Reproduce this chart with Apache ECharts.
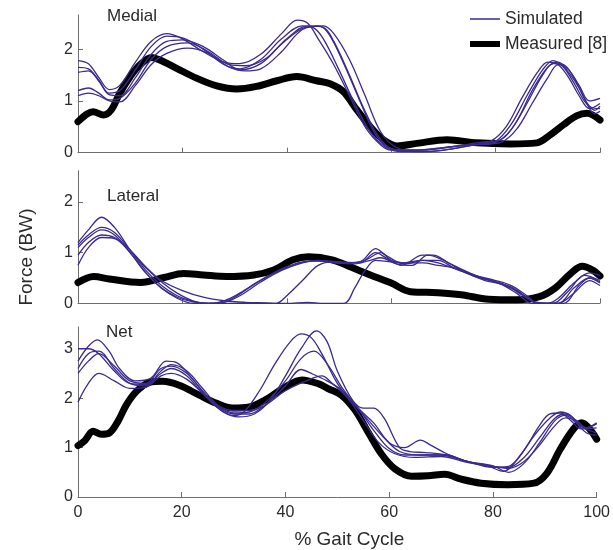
<!DOCTYPE html>
<html>
<head>
<meta charset="utf-8">
<script src="https://cdn.jsdelivr.net/npm/echarts@6/dist/echarts.min.js"></script>
<style>
html,body{margin:0;padding:0;background:#ffffff;}
#chart{width:613px;height:550px;}
</style>
</head>
<body>
<div id="chart"></div>
<script>
// ---- axis ticks ----
const gaitTicks = [0, 20, 40, 60, 80, 100];
const medialTicks = [0, 1, 2];
const lateralTicks = [0, 1, 2];
const netTicks = [0, 1, 2, 3];
const panelNames = ['Medial', 'Lateral', 'Net'];

// ---- Medial: measured [% gait, BW] ----
const medialMeasured = [[0,0.6],[2.9,0.79],[4.9,0.73],[6.4,0.83],[8,1.15],[10,1.47],[11.9,1.7],[14.1,1.84],[15.7,1.79],[18.9,1.63],[22.7,1.44],[26.6,1.29],[30.4,1.23],[34.2,1.28],[38.1,1.39],[41.9,1.47],[45.7,1.39],[48.3,1.33],[50.8,1.18],[53.4,0.83],[56,0.5],[58.5,0.25],[61.1,0.13],[64.9,0.18],[70.7,0.25],[76.4,0.19],[82.8,0.17],[87.9,0.19],[90.4,0.34],[93,0.54],[95.5,0.71],[97.5,0.76],[100,0.63]];
// ---- Medial: simulated ----
const medialSim1 = [[0,1.78],[2,1.72],[4,1.45],[6,1.22],[8,1.3],[11,1.75],[14,2.15],[17,2.3],[20,2.2],[24,1.95],[28,1.75],[31,1.72],[35,1.9],[39,2.3],[42,2.56],[44,2.5],[46,2.2],[49,1.7],[52,1.1],[55,0.5],[58,0.15],[60,0.05],[65,0.05],[70,0.1],[75,0.15],[79,0.22],[82,0.5],[85,1.05],[88,1.55],[90,1.75],[92,1.7],[94,1.45],[96,1.1],[98,0.85],[100,0.95]];
const medialSim2 = [[0,1.65],[2,1.62],[4,1.4],[6,1.15],[8,1.2],[11,1.6],[14,2.05],[17,2.25],[20,2.22],[24,2.0],[28,1.7],[31,1.62],[35,1.8],[39,2.2],[43,2.45],[45,2.42],[47,2.2],[50,1.6],[53,0.95],[56,0.4],[59,0.1],[62,0.02],[67,0.02],[72,0.08],[76,0.15],[80,0.22],[83,0.55],[86,1.1],[89,1.6],[91,1.78],[93,1.65],[95,1.35],[97,1.0],[99,0.82],[100,0.9]];
const medialSim3 = [[0,1.55],[2,1.58],[4,1.38],[6,1.12],[8,1.1],[11,1.45],[14,1.9],[17,2.15],[20,2.18],[24,2.05],[28,1.78],[31,1.6],[35,1.72],[39,2.1],[43,2.4],[46,2.45],[48,2.3],[51,1.7],[54,1.0],[57,0.35],[60,0.08],[64,0.05],[70,0.1],[75,0.15],[80,0.2],[83,0.45],[86,0.95],[89,1.5],[91,1.72],[93,1.7],[95,1.45],[97,1.05],[99,0.75],[100,0.8]];
const medialSim4 = [[0,1.2],[2,1.25],[4,1.15],[6,1.02],[8,1.05],[11,1.35],[14,1.8],[17,2.05],[21,2.12],[25,1.95],[29,1.7],[32,1.68],[36,1.82],[40,2.2],[44,2.45],[47,2.42],[49,2.15],[52,1.5],[55,0.8],[58,0.25],[61,0.05],[66,0.05],[72,0.12],[77,0.2],[81,0.25],[84,0.6],[87,1.2],[90,1.65],[92,1.75],[94,1.55],[96,1.25],[98,0.9],[100,0.85]];
const medialSim5 = [[0,1.1],[2,1.15],[4,1.1],[6,1.0],[8,0.98],[11,1.3],[14,1.7],[17,1.92],[21,2.02],[25,1.92],[29,1.65],[32,1.58],[35,1.62],[39,1.95],[43,2.38],[47,2.45],[49,2.3],[52,1.8],[55,1.1],[58,0.4],[61,0.1],[65,0.02],[70,0.05],[76,0.15],[81,0.2],[84,0.45],[87,0.95],[90,1.45],[92,1.7],[94,1.6],[96,1.3],[98,1.0],[100,1.05]];

// ---- Lateral ----
const lateralMeasured = [[0,0.41],[3,0.53],[6,0.48],[12,0.41],[16.5,0.51],[20.2,0.59],[24,0.56],[28.5,0.53],[33.7,0.56],[37.5,0.66],[41.2,0.86],[44.2,0.92],[48.7,0.86],[52.4,0.71],[56,0.56],[60,0.4],[63.7,0.23],[69,0.21],[73.4,0.17],[78.7,0.08],[84,0.07],[88.4,0.13],[91.4,0.3],[94.4,0.59],[96.6,0.73],[98.5,0.66],[100,0.54]];
const lateralSim1 = [[0,1.2],[2,1.45],[4.5,1.7],[7,1.5],[10,1.05],[13,0.65],[16,0.35],[19,0.15],[22,0.04],[25,0],[28,0.05],[31,0.2],[35,0.45],[39,0.68],[43,0.82],[46,0.84],[50,0.8],[54,0.82],[57,1.08],[59,0.95],[62,0.8],[66,0.85],[69,0.8],[73,0.65],[77,0.5],[80,0.42],[83,0.3],[86,0.1],[88,0],[91,0],[94,0.25],[97,0.55],[100,0.45]];
const lateralSim2 = [[0,1.15],[2,1.35],[4.5,1.5],[7,1.4],[10,1.05],[13,0.7],[16,0.42],[19,0.2],[22,0.05],[25,0],[28,0.02],[31,0.15],[35,0.42],[39,0.65],[43,0.8],[46,0.85],[50,0.82],[54,0.8],[57,1.0],[59,0.9],[62,0.75],[66,0.95],[68,0.95],[71,0.8],[75,0.6],[78,0.48],[81,0.4],[84,0.25],[87,0.05],[90,0],[92,0.1],[95,0.4],[98,0.6],[100,0.55]];
const lateralSim3 = [[0,1.1],[2,1.3],[4.5,1.45],[7,1.35],[10,1.0],[13,0.6],[16,0.3],[19,0.12],[22,0.03],[25,0],[27,0],[30,0.12],[34,0.4],[38,0.62],[42,0.78],[45,0.84],[49,0.8],[53,0.78],[56,0.85],[58,0.9],[61,0.78],[64,0.75],[67,0.95],[70,0.85],[74,0.62],[78,0.45],[81,0.38],[84,0.2],[87,0],[92,0],[95,0.3],[98,0.5],[100,0.42]];
const lateralSim4 = [[0,0.95],[2,1.2],[4.5,1.35],[7,1.3],[10,1.05],[13,0.72],[16,0.45],[20,0.25],[24,0.12],[28,0.05],[32,0.02],[36,0.01],[38,0],[40,0.15],[43,0.45],[46,0.75],[49,0.82],[52,0.8],[55,0.85],[58,1.0],[60,0.85],[63,0.78],[66,0.85],[69,0.85],[72,0.7],[76,0.55],[80,0.42],[83,0.32],[86,0.12],[88,0],[93,0],[96,0.35],[98,0.5],[100,0.4]];
const lateralSim5 = [[0,0.75],[2,1.1],[4.5,1.3],[7,1.28],[10,1.0],[13,0.6],[16,0.3],[19,0.1],[22,0],[30,0],[40,0],[44,0.02],[47,0],[51,0],[53,0.3],[55,0.65],[57,0.85],[60,0.82],[63,0.8],[66,0.8],[69,0.75],[72,0.7],[76,0.55],[80,0.45],[83,0.35],[86,0.15],[88,0],[92,0],[95,0.2],[98,0.45],[100,0.35]];

// ---- Net ----
const netMeasured = [[0,1.04],[1.3,1.14],[2.9,1.33],[4.5,1.27],[6.1,1.3],[7.7,1.53],[9.3,1.86],[11.2,2.13],[13.8,2.32],[16.3,2.34],[19.5,2.26],[23.4,2.06],[26.6,1.9],[29.8,1.8],[33,1.82],[36.2,1.97],[39.4,2.19],[43.2,2.37],[46.4,2.29],[48.3,2.19],[50.8,2.06],[53.4,1.76],[56,1.3],[58.5,0.87],[61.1,0.57],[64.3,0.42],[67.5,0.43],[70.7,0.46],[73.9,0.36],[77.7,0.28],[82.8,0.25],[87.9,0.28],[90.4,0.48],[93,0.97],[95.5,1.37],[97.1,1.5],[98.7,1.37],[100,1.17]];
const netSim1 = [[0,3.0],[2,3.0],[4,2.9],[7,2.55],[10,2.3],[13,2.28],[16,2.5],[18,2.6],[21,2.45],[24,2.1],[27,1.8],[30,1.65],[32,1.72],[35,2.15],[38,2.7],[41,3.15],[43,3.3],[45,3.22],[47,2.9],[50,2.3],[53,1.9],[56,1.55],[59,1.2],[62,0.92],[66,0.85],[70,0.85],[75,0.72],[80,0.6],[83,0.62],[86,0.95],[89,1.45],[91,1.68],[93,1.7],[95,1.55],[97,1.38],[100,1.4]];
const netSim2 = [[0,2.75],[2,3.05],[3.7,3.18],[6,2.95],[8,2.6],[11,2.35],[14,2.4],[17,2.75],[19,2.72],[22,2.4],[25,2.0],[28,1.72],[31,1.62],[34,1.68],[37,1.95],[40,2.45],[43,3.0],[46,3.36],[48,3.15],[50,2.55],[53,1.95],[55,1.8],[57,1.8],[59,1.6],[62,1.0],[64,0.92],[67,0.9],[71,0.85],[75,0.72],[79,0.63],[82,0.52],[85,0.8],[88,1.25],[91,1.6],[93,1.72],[95,1.65],[97,1.42],[100,1.3]];
const netSim3 = [[0,2.6],[2,2.9],[4,2.95],[7,2.6],[10,2.3],[13,2.25],[16,2.55],[18,2.68],[21,2.55],[24,2.2],[27,1.85],[30,1.7],[33,1.72],[36,1.9],[40,2.35],[43,2.8],[45.5,2.95],[48,2.7],[51,2.2],[54,1.8],[57,1.5],[60,1.1],[63,1.0],[66,1.15],[68,1.05],[71,0.88],[75,0.72],[80,0.62],[83,0.6],[86,0.8],[89,1.2],[92,1.6],[94,1.68],[96,1.55],[98,1.4],[100,1.5]];
const netSim4 = [[0,2.5],[2,2.75],[4,2.9],[7,2.65],[10,2.35],[13,2.3],[16,2.6],[18,2.65],[21,2.5],[24,2.15],[27,1.82],[30,1.68],[33,1.68],[36,1.85],[40,2.25],[43,2.58],[45,2.5],[48,2.35],[51,2.15],[54,1.8],[57,1.35],[60,0.98],[63,0.85],[67,0.85],[71,0.85],[75,0.72],[80,0.63],[83,0.5],[86,0.68],[89,1.1],[92,1.55],[94,1.65],[96,1.5],[98,1.3],[100,1.25]];
const netSim5 = [[0,1.92],[2,2.3],[4,2.5],[7,2.35],[10,2.2],[13,2.22],[16,2.45],[18,2.5],[21,2.38],[24,2.1],[27,1.85],[30,1.75],[33,1.75],[36,1.85],[40,2.15],[44,2.35],[47,2.45],[49,2.3],[52,2.0],[55,1.55],[58,1.1],[61,0.88],[65,0.8],[70,0.82],[75,0.7],[80,0.62],[83,0.58],[86,0.72],[89,1.05],[92,1.45],[94,1.6],[96,1.55],[98,1.4],[100,1.48]];

const SIM_COLOR = '#3b2a8e';
const FONT = "'Liberation Sans', Arial, Helvetica, sans-serif";
const AXIS_COLOR = '#6e6e6e';
const TEXT_COLOR = '#2a2a2a';

const grids = [
  {left: 78, right: 13, top: 15, height: 137.7},
  {left: 78, right: 13, top: 170.7, height: 132.6},
  {left: 78, right: 13, top: 327, height: 173.7}
];
const yMax = [2.66, 2.62, 3.44];
const yTicks = [medialTicks, lateralTicks, netTicks];

const xAxes = grids.map((g, i) => ({
  type: 'value', gridIndex: i, min: 0, max: 100, interval: 20,
  axisLine: {show: true, lineStyle: {color: AXIS_COLOR, width: 1}},
  axisTick: {show: true, inside: true, length: 5, lineStyle: {color: AXIS_COLOR}, customValues: gaitTicks},
  axisLabel: {show: i === 2, margin: 8, fontSize: 16, color: TEXT_COLOR, fontFamily: FONT, customValues: gaitTicks},
  splitLine: {show: false},
  name: i === 2 ? '% Gait Cycle' : '',
  nameLocation: 'middle', nameGap: 33,
  nameTextStyle: {fontSize: 19, color: TEXT_COLOR, fontFamily: FONT, padding: [0, 0, 0, 24]}
}));
const yAxes = grids.map((g, i) => ({
  type: 'value', gridIndex: i, min: 0, max: yMax[i],
  axisLine: {show: true, lineStyle: {color: AXIS_COLOR, width: 1}},
  axisTick: {show: true, inside: true, length: 5, lineStyle: {color: AXIS_COLOR}, customValues: yTicks[i]},
  axisLabel: {show: true, margin: 5, fontSize: 16, color: TEXT_COLOR, fontFamily: FONT, customValues: yTicks[i]},
  splitLine: {show: false}
}));

function measured(data, i) {
  return {type: 'line', name: 'Measured [8]', xAxisIndex: i, yAxisIndex: i, data: data,
    showSymbol: false, symbol: 'none', smooth: 0.35, color: '#000000',
    lineStyle: {color: '#000000', width: 7, cap: 'round', join: 'round'}, z: 2, silent: true};
}
function simulated(data, i) {
  return {type: 'line', name: 'Simulated', xAxisIndex: i, yAxisIndex: i, data: data,
    showSymbol: false, symbol: 'none', smooth: 0.35, color: SIM_COLOR,
    lineStyle: {color: SIM_COLOR, width: 1.3}, z: 3, silent: true};
}

const series = [
  measured(medialMeasured, 0),
  simulated(medialSim1, 0), simulated(medialSim2, 0), simulated(medialSim3, 0), simulated(medialSim4, 0), simulated(medialSim5, 0),
  measured(lateralMeasured, 1),
  simulated(lateralSim1, 1), simulated(lateralSim2, 1), simulated(lateralSim3, 1), simulated(lateralSim4, 1), simulated(lateralSim5, 1),
  measured(netMeasured, 2),
  simulated(netSim1, 2), simulated(netSim2, 2), simulated(netSim3, 2), simulated(netSim4, 2), simulated(netSim5, 2)
];

const panelLabelPos = [[107, 16], [107, 196], [106, 332]];
const graphics = panelNames.map((n, i) => ({
  type: 'text', x: panelLabelPos[i][0], y: panelLabelPos[i][1], silent: true,
  style: {text: n, fontSize: 17, fontFamily: FONT, fill: TEXT_COLOR, align: 'left', verticalAlign: 'middle'}
}));
graphics.push({
  type: 'text', x: 27, y: 257, rotation: Math.PI / 2, silent: true,
  style: {text: 'Force (BW)', fontSize: 19, fontFamily: FONT, fill: TEXT_COLOR, align: 'center', verticalAlign: 'middle'}
});

const chart = echarts.init(document.getElementById('chart'), null, {renderer: 'canvas'});
chart.setOption({
  backgroundColor: '#ffffff',
  animation: false,
  grid: grids,
  xAxis: xAxes,
  yAxis: yAxes,
  legend: [
    {data: ['Simulated'], left: 470, top: 10, padding: 0, icon: 'rect', itemWidth: 30, itemHeight: 1.5,
     textStyle: {fontSize: 17.5, fontFamily: FONT, color: TEXT_COLOR}, selectedMode: false},
    {data: ['Measured [8]'], left: 470, top: 35, padding: 0, icon: 'rect', itemWidth: 30, itemHeight: 6,
     textStyle: {fontSize: 17.5, fontFamily: FONT, color: TEXT_COLOR}, selectedMode: false}
  ],
  graphic: graphics,
  series: series
});
</script>
</body>
</html>
